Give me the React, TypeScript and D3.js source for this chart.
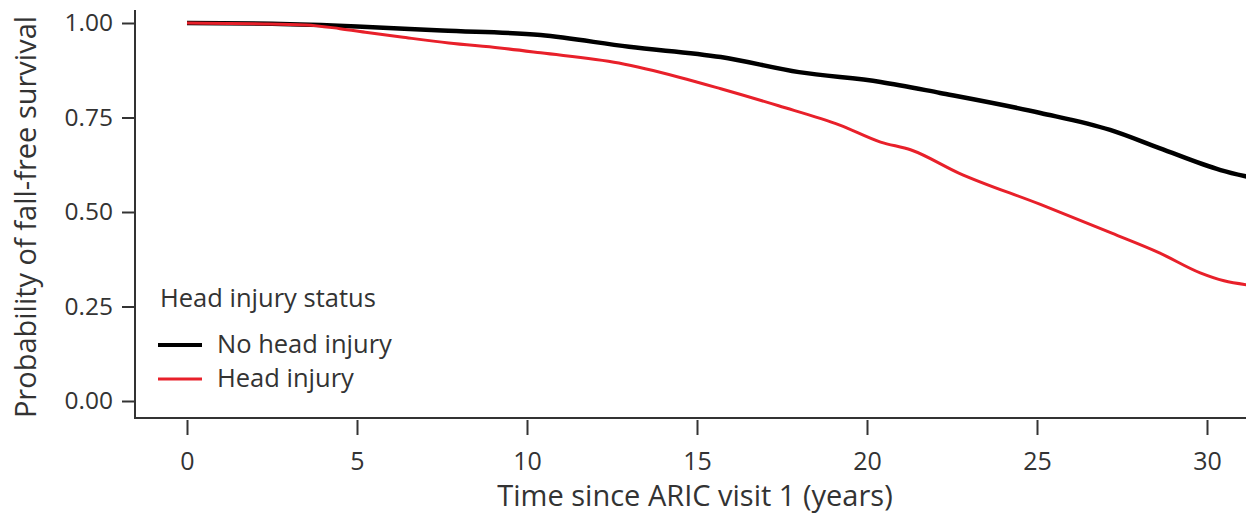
import React, { useEffect, useRef } from 'react';
import * as d3 from 'd3';

// survival curves (years, probability)
const noInjuryTime = [0, 2.5, 5, 7.5, 10.4, 13, 15.7, 18, 20.4, 22.15, 25.1, 27.15, 28.6, 30.4, 31.2];
const noInjurySurv = [1.0, 0.998, 0.991, 0.98, 0.968, 0.937, 0.91, 0.87, 0.844, 0.815, 0.762, 0.717, 0.669, 0.611, 0.593];

const injuryTime = [0, 2, 3.5, 4.5, 5.3, 6.3, 7.7, 9.2, 10.4, 12.7, 14.5, 15.7, 17.4, 19.2, 20.4, 21.3, 22.7, 25.1, 27.2, 28.6, 29.8, 30.5, 31.2];
const injurySurv = [1.0, 0.998, 0.995, 0.985, 0.975, 0.963, 0.947, 0.934, 0.921, 0.894, 0.856, 0.826, 0.781, 0.73, 0.685, 0.664, 0.603, 0.52, 0.444, 0.392, 0.339, 0.318, 0.307];

const xTicks = [0, 5, 10, 15, 20, 25, 30];
const yTicks = [0, 0.25, 0.5, 0.75, 1];
const legendLabels = ['No head injury', 'Head injury'];
const colors = ['#000000', '#e8202a'];

const App = () => {
  const svgRef = useRef<SVGSVGElement>(null);

  useEffect(() => {
    const width = 1246, height = 517;
    const svg = d3.select(svgRef.current);
    svg.selectAll('*').remove();

    const font = "'Open Sans', 'Noto Sans', sans-serif";
    const textColor = '#333';

    // x: 0 at 187px, 34px per year, axis starts at 135
    const x = d3.scaleLinear().domain([-52 / 34, (width - 187) / 34]).range([135, width]);
    const y = d3.scaleLinear().domain([0, 1]).range([401, 23]);

    svg.append('clipPath').attr('id', 'plotclip')
      .append('rect').attr('x', 135).attr('y', 0).attr('width', width - 135).attr('height', 418);

    // y axis
    const yAxis = svg.append('g')
      .attr('transform', 'translate(135,0)')
      .call(d3.axisLeft(y).tickValues(yTicks).tickFormat(d3.format('.2f')).tickSize(13).tickPadding(9).tickSizeOuter(0));
    yAxis.select('.domain').remove();
    yAxis.append('line').attr('x1', 0).attr('x2', 0).attr('y1', 10).attr('y2', 418)
      .attr('stroke', textColor).attr('stroke-width', 2);
    yAxis.selectAll('.tick line').attr('stroke', textColor).attr('stroke-width', 2);
    yAxis.selectAll('.tick text').attr('fill', textColor).attr('font-size', 24.5).attr('font-family', font);

    // x axis
    const xAxis = svg.append('g')
      .attr('transform', 'translate(0,418)')
      .call(d3.axisBottom(x).tickValues(xTicks).tickFormat(d3.format('d')).tickSize(17).tickPadding(17).tickSizeOuter(0));
    xAxis.select('.domain').remove();
    xAxis.append('line').attr('x1', 134).attr('x2', width).attr('y1', 0).attr('y2', 0)
      .attr('stroke', textColor).attr('stroke-width', 2);
    xAxis.selectAll('.tick line').attr('stroke', textColor).attr('stroke-width', 2).attr('y1', 2);
    xAxis.selectAll('.tick text').attr('fill', textColor).attr('font-size', 25).attr('font-family', font);

    // axis titles
    svg.append('text')
      .attr('x', 695).attr('y', 506)
      .attr('text-anchor', 'middle')
      .attr('fill', textColor).attr('font-size', 29).attr('font-family', font)
      .text('Time since ARIC visit 1 (years)');

    svg.append('text')
      .attr('transform', 'translate(36,217) rotate(-90)')
      .attr('text-anchor', 'middle')
      .attr('fill', textColor).attr('font-size', 29).attr('font-family', font)
      .text('Probability of fall-free survival');

    // curves
    const plot = svg.append('g').attr('clip-path', 'url(#plotclip)');

    plot.append('path')
      .attr('d', d3.line<number>().x(d => x(d)).y((d, i) => y(noInjurySurv[i])).curve(d3.curveMonotoneX)(noInjuryTime))
      .attr('fill', 'none').attr('stroke', colors[0]).attr('stroke-width', 4.5)
      .attr('stroke-linejoin', 'round');

    plot.append('path')
      .attr('d', d3.line<number>().x(d => x(d)).y((d, i) => y(injurySurv[i])).curve(d3.curveMonotoneX)(injuryTime))
      .attr('fill', 'none').attr('stroke', colors[1]).attr('stroke-width', 3)
      .attr('stroke-linejoin', 'round');

    // legend
    const legend = svg.append('g').attr('transform', 'translate(160,0)');
    legend.append('text')
      .attr('x', 0).attr('y', 307)
      .attr('fill', textColor).attr('font-size', 25.5).attr('font-family', font)
      .text('Head injury status');

    legendLabels.forEach((lab, i) => {
      const ly = 345 + i * 34;
      legend.append('line')
        .attr('x1', -2).attr('x2', 42).attr('y1', ly).attr('y2', ly)
        .attr('stroke', colors[i]).attr('stroke-width', i === 0 ? 4 : 3);
      legend.append('text')
        .attr('x', 57).attr('y', ly + 8)
        .attr('fill', textColor).attr('font-size', 25.5).attr('font-family', font)
        .text(lab);
    });
  }, []);

  return (
    <svg ref={svgRef} width={1246} height={517}
      style={{ position: 'absolute', left: 0, top: 0, background: '#fff' }} />
  );
};

export default App;
